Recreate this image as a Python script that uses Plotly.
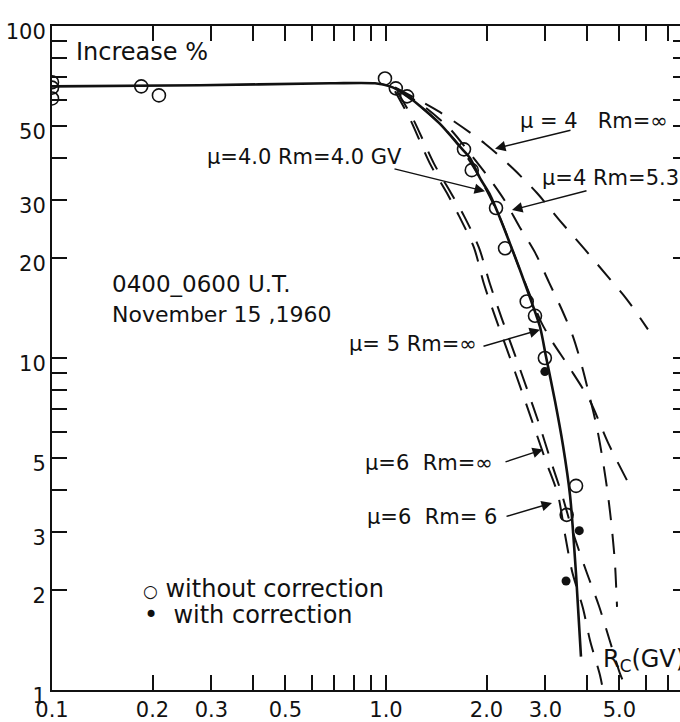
import plotly.graph_objects as go

# ---------------- data ----------------
# solid best-fit curve (mu=4.0, Rm=4.0 GV)
fit_x = [0.1, 0.277, 0.68, 0.927, 1.028, 1.14, 1.264, 1.451, 1.666, 1.785, 1.912, 2.048,
         2.194, 2.351, 2.519, 2.698, 2.892, 3.013, 3.206, 3.388, 3.556, 3.707, 3.835]
fit_y = [65.8, 66.3, 67.2, 67.2, 65.8, 62.3, 57.4, 50.7, 43.3, 40.0, 34.8, 31.0,
         26.4, 22.1, 18.4, 15.2, 12.4, 10.1, 7.42, 5.45, 3.86, 2.23, 1.26]

# dashed model curves
mu4_inf_x = [1.064, 1.451, 1.979, 2.400, 2.832, 3.319, 3.944, 4.588, 5.267, 6.085]
mu4_inf_y = [65.3, 55.0, 44.2, 37.2, 31.4, 25.9, 21.2, 17.7, 15.0, 12.2]

mu4_53_x = [1.086, 1.309, 1.554, 1.785, 2.020, 2.271, 2.502, 2.793, 3.076, 3.365, 3.630,
            3.863, 4.054, 4.282, 4.463, 4.620, 4.749, 4.849, 4.917]
mu4_53_y = [64.5, 56.9, 49.0, 41.3, 35.2, 29.7, 25.0, 20.8, 16.9, 13.95, 11.6,
            9.43, 7.78, 6.16, 4.88, 3.86, 3.04, 2.39, 1.78]

mu5_inf_x = [1.064, 1.264, 1.451, 1.666, 1.912, 2.194, 2.519, 2.717, 2.912, 3.119, 3.556,
             4.082, 4.620, 5.267]
mu5_inf_y = [65.0, 57.4, 50.7, 43.3, 34.8, 26.4, 18.4, 15.2, 12.85, 11.36, 9.30,
             7.42, 5.56, 4.28]

mu6_inf_x = [1.064, 1.180, 1.354, 1.522, 1.654, 1.834, 1.965, 2.135, 2.335, 2.537, 2.755,
             3.013, 3.273, 3.435, 3.606, 3.890, 4.082, 4.372, 4.463]
mu6_inf_y = [63.6, 52.5, 38.5, 31.4, 26.8, 21.5, 16.7, 13.1, 10.2, 8.06, 6.34,
             4.88, 3.87, 2.94, 2.28, 1.76, 1.41, 1.108, 1.0]

mu6_6_x = [1.079, 1.205, 1.392, 1.565, 1.712, 1.898, 2.048, 2.225, 2.434, 2.644, 2.872,
           3.119, 3.365, 3.630, 3.970, 4.342, 4.685, 5.019, 5.267]
mu6_6_y = [63.6, 52.5, 38.5, 31.4, 26.8, 21.5, 16.7, 13.1, 10.2, 8.06, 6.34,
           4.88, 3.87, 2.98, 2.29, 1.79, 1.40, 1.12, 1.0]

# measured points
open_x = [0.1, 0.1, 0.1, 0.185, 0.209, 0.993, 1.07, 1.156, 1.712, 1.806, 2.135,
          2.272, 2.638, 2.793, 2.99, 3.707, 3.475]
open_y = [67.7, 65.2, 60.5, 65.8, 61.8, 69.5, 64.9, 61.4, 42.5, 36.8, 28.3,
          21.4, 14.8, 13.4, 10.0, 4.12, 3.37]
filled_x = [2.99, 3.79, 3.46]
filled_y = [9.1, 3.02, 2.13]

# axis ticks
x_tickvals = [0.1, 0.2, 0.3, 0.4, 0.5, 0.6, 0.7, 0.8, 0.9, 1, 2, 3, 4, 5, 6, 7]
x_labels = {0.1: "0.1", 0.2: "0.2", 0.3: "0.3", 0.5: "0.5", 1: "1.0", 2: "2.0", 3: "3.0", 5: "5.0"}
y_tickvals = [1, 2, 3, 4, 5, 6, 7, 8, 9, 10, 20, 30, 40, 50, 60, 70, 80, 90, 100]
y_labels = {1: "1", 2: "2", 3: "3", 5: "5", 10: "10", 20: "20", 30: "30", 50: "50", 100: "100"}

FONT = "DejaVu Sans"
BLACK = "#111111"

fig = go.Figure()

dash = "20px,14px"
for xs, ys in [(mu4_inf_x, mu4_inf_y), (mu4_53_x, mu4_53_y), (mu5_inf_x, mu5_inf_y),
               (mu6_inf_x, mu6_inf_y), (mu6_6_x, mu6_6_y)]:
    fig.add_trace(go.Scatter(x=xs, y=ys, mode="lines",
                             line=dict(color=BLACK, width=2, dash=dash, shape="spline", smoothing=0.8),
                             showlegend=False, hoverinfo="skip"))

fig.add_trace(go.Scatter(x=fit_x, y=fit_y, mode="lines",
                         line=dict(color=BLACK, width=2.6, shape="spline", smoothing=0.8),
                         showlegend=False))
fig.add_trace(go.Scatter(x=open_x, y=open_y, mode="markers",
                         marker=dict(symbol="circle-open", size=13, color=BLACK, line=dict(width=1.6)),
                         showlegend=False))
fig.add_trace(go.Scatter(x=filled_x, y=filled_y, mode="markers",
                         marker=dict(symbol="circle", size=9, color=BLACK),
                         showlegend=False))
# invisible trace for the mirror axes
fig.add_trace(go.Scatter(x=[1], y=[10], xaxis="x2", yaxis="y2", mode="markers",
                         marker=dict(opacity=0), showlegend=False, hoverinfo="skip"))

xr = [-1, -1 + 628 / 334]
yr = [0, 2]
common = dict(type="log", ticks="inside", tickcolor=BLACK, tickwidth=1.6,
              linecolor=BLACK, linewidth=2, showgrid=False, zeroline=False)

fig.update_layout(
    width=680, height=722,
    margin=dict(l=52, r=0, t=26, b=25),
    paper_bgcolor="white", plot_bgcolor="white",
    font=dict(family=FONT, color=BLACK, size=21),
    xaxis=dict(range=xr, tickvals=x_tickvals,
               ticktext=[x_labels.get(v, "") for v in x_tickvals],
               ticklen=15, showline=True, tickfont=dict(size=21), **common),
    yaxis=dict(range=yr, tickvals=y_tickvals,
               ticktext=[y_labels.get(v, "") for v in y_tickvals],
               ticklen=15, showline=True, tickfont=dict(size=21), ticklabelshift=6, **common),
    xaxis2=dict(range=xr, tickvals=x_tickvals, overlaying="x", side="top", anchor="y",
                showticklabels=False, ticklen=15, showline=True, **common),
    yaxis2=dict(range=yr, tickvals=y_tickvals, overlaying="y", side="right", anchor="x",
                showticklabels=False, ticklen=7, showline=False, **common),
    showlegend=False,
)

def px2paper(px, py):
    return (px - 52) / 628, (697 - py) / 671

texts = [
    ("Increase %", 74, 52, 24),
    ("0400_0600 U.T.", 110, 287, 23),
    ("November 15 ,1960", 110, 318, 22),
    ("μ = 4   Rm=∞", 518, 122, 21),
    ("μ=4.0 Rm=4.0 GV", 205, 158, 21),
    ("μ=4 Rm=5.3", 540, 180, 21),
    ("μ= 5 Rm=∞", 347, 347, 21),
    ("μ=6  Rm=∞", 363, 468, 21),
    ("μ=6  Rm= 6", 365, 522, 21),
    ("<span style='font-size:17px'>○</span> without correction", 141, 595, 24),
    ("•  with correction", 142, 621, 24),
    ("R<sub>C</sub>(GV)", 601, 667, 24),
]
for t, px, py, s in texts:
    xp, yp = px2paper(px, py)
    fig.add_annotation(text=t, x=xp, y=yp, xref="paper", yref="paper", xanchor="left",
                       yanchor="middle", showarrow=False, font=dict(size=s, family=FONT, color=BLACK))

def lx(px):
    return (px - 52) / 334 - 1

def ly(py):
    return (697 - py) / 335.5

arrows = [((495, 150), (572, 131)), ((485, 193), (393, 170)), ((512, 212), (588, 192)),
          ((540, 333), (482, 350)), ((543, 454), (504, 467)), ((552, 508), (505, 522))]
for (hx, hy), (tx, ty) in arrows:
    fig.add_annotation(text="", x=lx(hx), y=ly(hy), ax=lx(tx), ay=ly(ty), xref="x", yref="y",
                       axref="x", ayref="y", showarrow=True, arrowhead=2, arrowsize=1.4,
                       arrowwidth=1.5, arrowcolor=BLACK)

fig.write_html("out.html")
